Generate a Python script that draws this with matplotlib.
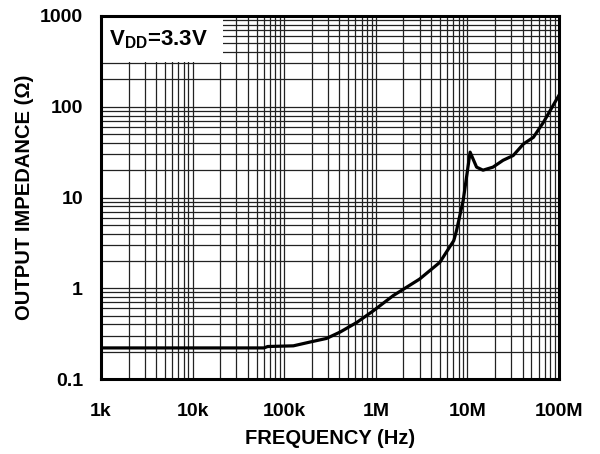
import matplotlib
matplotlib.use("Agg")
import matplotlib.pyplot as plt
from matplotlib.ticker import LogLocator, FixedLocator, NullFormatter
from matplotlib.patches import Rectangle

plt.rcParams['font.family'] = ['Liberation Sans', 'DejaVu Sans']
plt.rcParams['mathtext.fontset'] = 'custom'
plt.rcParams['mathtext.rm'] = 'Liberation Sans:bold'
plt.rcParams['mathtext.bf'] = 'Liberation Sans:bold'
plt.rcParams['mathtext.it'] = 'Liberation Sans:bold'

freq_hz = [1e3, 1e4, 6.0e4, 6.6e4, 1.26e5, 1.9e5, 2.9e5, 4.1e5, 6.2e5, 9.3e5,
           1.55e6, 3.0e6, 5.0e6, 7.1e6, 7.6e6, 9.0e6, 1.07e7, 1.26e7, 1.48e7,
           1.9e7, 2.45e7, 3.16e7, 4.1e7, 5.25e7, 6.8e7, 9.3e7, 1e8]
impedance_ohm = [0.22, 0.22, 0.22, 0.228, 0.232, 0.255, 0.28, 0.33, 0.42, 0.56,
                 0.83, 1.26, 1.93, 3.35, 4.3, 9.3, 31.6, 21.6, 20.0,
                 21.6, 25.7, 29.0, 39.0, 46.0, 68.0, 118.0, 134.0]

x_ticks = [1e3, 1e4, 1e5, 1e6, 1e7, 1e8]
x_tick_labels = ['1k', '10k', '100k', '1M', '10M', '100M']
y_ticks = [0.1, 1, 10, 100, 1000]
y_tick_labels = ['0.1', '1', '10', '100', '1000']

fig = plt.figure(figsize=(6.0, 4.54), dpi=100)
ax = fig.add_axes([101/600, 1-379/454, 458/600, 363/454])

ax.plot(freq_hz, impedance_ohm, color='black', lw=2.3, zorder=3,
        solid_joinstyle='round')
ax.set_xscale('log')
ax.set_yscale('log')
ax.set_xlim(1e3, 1e8)
ax.set_ylim(0.1, 1000)

ax.xaxis.set_major_locator(FixedLocator(x_ticks))
ax.set_xticklabels(x_tick_labels)
ax.yaxis.set_major_locator(FixedLocator(y_ticks))
ax.set_yticklabels(y_tick_labels)
ax.xaxis.set_minor_locator(LogLocator(base=10, subs=range(2, 10), numticks=20))
ax.yaxis.set_minor_locator(LogLocator(base=10, subs=range(2, 10), numticks=20))
ax.xaxis.set_minor_formatter(NullFormatter())
ax.yaxis.set_minor_formatter(NullFormatter())

ax.grid(True, which='both', color='#222222', lw=0.9)
ax.tick_params(which='both', length=0)
ax.tick_params(axis='x', pad=17, labelsize=14)
ax.tick_params(axis='y', pad=13, labelsize=14)
for lab in ax.get_xticklabels() + ax.get_yticklabels():
    lab.set_fontweight('bold')
for s in ax.spines.values():
    s.set_linewidth(2.2)
    s.set_zorder(5)

ax.set_xlabel('FREQUENCY (Hz)', fontsize=14.5, fontweight='bold', labelpad=7)
ax.set_ylabel('OUTPUT IMPEDANCE (Ω)', fontsize=14.5, fontweight='bold', labelpad=4)

ax.add_patch(Rectangle((0.005, 0.873), 0.261, 0.127, transform=ax.transAxes,
                       facecolor='white', edgecolor='none', zorder=4))
ax.text(0.018, 0.935, r'V$_{\mathrm{DD}}$=3.3V', transform=ax.transAxes,
        fontsize=16, fontweight='bold', va='center', ha='left', zorder=6)

fig.savefig('out.png', dpi=100)
